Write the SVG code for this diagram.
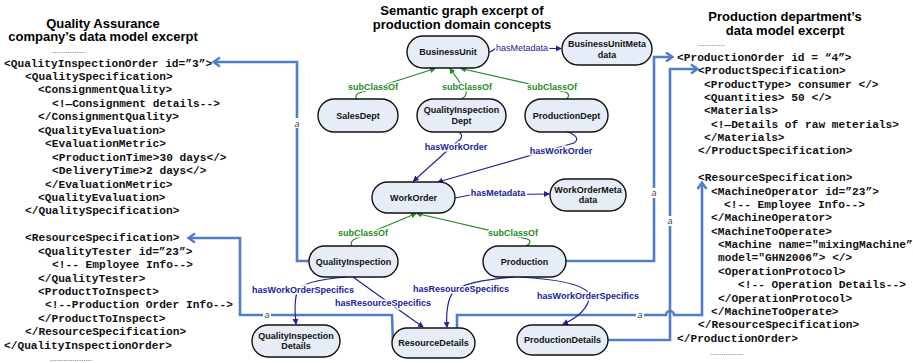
<svg xmlns="http://www.w3.org/2000/svg" width="913" height="363" viewBox="0 0 913 363">
<style>
.title{font-family:"Liberation Sans",Arial,sans-serif;font-weight:bold;font-size:13px;fill:#000;text-anchor:middle}
.code{font-family:"Liberation Mono","Courier New",monospace;font-weight:bold;font-size:11.2px;fill:#111}
.dots{font-family:"Liberation Sans",Arial,sans-serif;font-size:8px;fill:#333}
.node rect{fill:#e7edf7;stroke:#111;stroke-width:1.4}
.node text{font-family:"Liberation Sans",Arial,sans-serif;font-weight:bold;font-size:9px;fill:#111;text-anchor:middle}
.g{fill:none;stroke:#1f8c1f;stroke-width:1.2}
.b{fill:none;stroke:#22229a;stroke-width:1.2}
.lg{font-family:"Liberation Sans",Arial,sans-serif;font-weight:bold;font-size:9px;fill:#1f8c1f;text-anchor:middle;stroke:#fff;stroke-width:3;paint-order:stroke}
.lb{font-family:"Liberation Sans",Arial,sans-serif;font-weight:bold;font-size:9px;fill:#22229a;text-anchor:middle;stroke:#fff;stroke-width:3;paint-order:stroke}
.lbn{font-family:"Liberation Sans",Arial,sans-serif;font-size:9px;fill:#22229a;text-anchor:middle;stroke:#fff;stroke-width:3;paint-order:stroke}
.map{fill:none;stroke:#4f7ec8;stroke-width:2.6}
.al{font-family:"Liberation Sans",Arial,sans-serif;font-style:italic;font-size:9px;fill:#444;text-anchor:middle}
</style>
<defs>
<marker id="ag" markerWidth="6" markerHeight="6" refX="5" refY="3" orient="auto" markerUnits="userSpaceOnUse"><path d="M0,0 L6,3 L0,6 z" fill="#1f8c1f"/></marker>
<marker id="ab" markerWidth="6" markerHeight="6" refX="5" refY="3" orient="auto" markerUnits="userSpaceOnUse"><path d="M0,0 L6,3 L0,6 z" fill="#22229a"/></marker>
<marker id="am" markerWidth="12" markerHeight="12" refX="9" refY="6" orient="auto" markerUnits="userSpaceOnUse"><path d="M3,1.5 L9.5,6 L3,10.5" fill="none" stroke="#4f7ec8" stroke-width="2.4"/></marker>
</defs>

<!-- titles -->
<text class="title" x="103" y="27.5">Quality Assurance</text>
<text class="title" x="103" y="41">company’s data model excerpt</text>
<text class="title" x="462" y="14.5">Semantic graph excerpt of</text>
<text class="title" x="462" y="28.5">production domain concepts</text>
<text class="title" x="785" y="20.5">Production department’s</text>
<text class="title" x="785" y="35">data model excerpt</text>

<!-- left data model -->
<text class="dots" x="52" y="53">...............</text>
<text class="code">
<tspan x="4" y="66.5">&lt;QualityInspectionOrder id=”3”&gt;</tspan>
<tspan x="25" y="79.9">&lt;QualitySpecification&gt;</tspan>
<tspan x="38" y="93.4">&lt;ConsignmentQuality&gt;</tspan>
<tspan x="52" y="106.8">&lt;!—Consignment details--&gt;</tspan>
<tspan x="38" y="120.3">&lt;/ConsignmentQuality&gt;</tspan>
<tspan x="38" y="133.7">&lt;QualityEvaluation&gt;</tspan>
<tspan x="45" y="147.1">&lt;EvaluationMetric&gt;</tspan>
<tspan x="52" y="160.6">&lt;ProductionTime&gt;30 days&lt;/&gt;</tspan>
<tspan x="52" y="174">&lt;DeliveryTime&gt;2 days&lt;/&gt;</tspan>
<tspan x="45" y="187.5">&lt;/EvaluationMetric&gt;</tspan>
<tspan x="38" y="200.9">&lt;QualityEvaluation&gt;</tspan>
<tspan x="25" y="214.3">&lt;/QualitySpecification&gt;</tspan>
<tspan x="25" y="241.2">&lt;ResourceSpecification&gt;</tspan>
<tspan x="38" y="254.7">&lt;QualityTester id=”23”&gt;</tspan>
<tspan x="52" y="268.1">&lt;!-- Employee Info--&gt;</tspan>
<tspan x="38" y="281.5">&lt;/QualityTester&gt;</tspan>
<tspan x="38" y="295">&lt;ProductToInspect&gt;</tspan>
<tspan x="45" y="308.4">&lt;!--Production Order Info--&gt;</tspan>
<tspan x="38" y="321.9">&lt;/ProductToInspect&gt;</tspan>
<tspan x="25" y="335.3">&lt;/ResourceSpecification&gt;</tspan>
<tspan x="4" y="348.7">&lt;/QualityInspectionOrder&gt;</tspan>
</text>
<text class="dots" x="50" y="361">...................</text>

<!-- right data model -->
<text class="dots" x="698" y="46">............</text>
<text class="code">
<tspan x="677" y="60.7">&lt;ProductionOrder id = “4”&gt;</tspan>
<tspan x="698" y="74.1">&lt;ProductSpecification&gt;</tspan>
<tspan x="704" y="87.5">&lt;ProductType&gt; consumer &lt;/&gt;</tspan>
<tspan x="704" y="100.8">&lt;Quantities&gt; 50 &lt;/&gt;</tspan>
<tspan x="704" y="114.2">&lt;Materials&gt;</tspan>
<tspan x="711" y="127.6">&lt;!—Details of raw meterials&gt;</tspan>
<tspan x="704" y="141">&lt;/Materials&gt;</tspan>
<tspan x="698" y="154.4">&lt;/ProductSpecification&gt;</tspan>
<tspan x="698" y="181.1">&lt;ResourceSpecification&gt;</tspan>
<tspan x="711" y="194.5">&lt;MachineOperator id=”23”&gt;</tspan>
<tspan x="724" y="207.9">&lt;!-- Employee Info--&gt;</tspan>
<tspan x="711" y="221.3">&lt;/MachineOperator&gt;</tspan>
<tspan x="711" y="234.7">&lt;MachineToOperate&gt;</tspan>
<tspan x="718" y="248">&lt;Machine name="mixingMachine”</tspan>
<tspan x="718" y="261.4">model="GHN2006”&gt; &lt;/&gt;</tspan>
<tspan x="718" y="274.8">&lt;OperationProtocol&gt;</tspan>
<tspan x="738" y="288.2">&lt;!-- Operation Details--&gt;</tspan>
<tspan x="718" y="301.6">&lt;/OperationProtocol&gt;</tspan>
<tspan x="711" y="315">&lt;/MachineToOperate&gt;</tspan>
<tspan x="698" y="328.3">&lt;/ResourceSpecification&gt;</tspan>
<tspan x="677" y="341.7">&lt;/ProductionOrder&gt;</tspan>
</text>
<text class="dots" x="710" y="355">...............</text>

<!-- connectors -->
<g id="connectors">
  <!-- mapping lines -->
  <path class="map" d="M310,261 L297,261 L297,62 L214,62" marker-end="url(#am)"/>
  <path class="map" d="M393,343 L392,315 L240,315 L240,238 L189,238" marker-end="url(#am)"/>
  <path class="map" d="M566,261 L654,261 L654,57 L672,57" marker-end="url(#am)"/>
  <path class="map" d="M608,340 L670,340 L670,69 L697,69" marker-end="url(#am)"/>
  <path class="map" d="M457,330 L457,315 L666,315 A4,4 0 0 1 674,315 L702,315 L702,183" marker-end="url(#am)"/>
  <rect x="293" y="118" width="8" height="10" fill="#fff"/><text class="al" x="297" y="127">a</text>
  <rect x="263" y="310" width="8" height="10" fill="#fff"/><text class="al" x="267" y="318">a</text>
  <rect x="650" y="188" width="8" height="10" fill="#fff"/><text class="al" x="654" y="196">a</text>
  <rect x="666" y="216" width="8" height="10" fill="#fff"/><text class="al" x="670" y="224">a</text>
  <rect x="636" y="310" width="8" height="10" fill="#fff"/><text class="al" x="640" y="318">a</text>

  <!-- semantic graph edges -->
  <path class="b" d="M489,52 C493,52 494,48 497,48 L561,48.5" marker-end="url(#ab)"/>
  <text class="lbn" x="522" y="50.5">hasMetadata</text>

  <path class="g" d="M357,99 C355,97 356,94 359,93 L435,68.5" marker-end="url(#ag)"/>
  <path class="g" d="M461,99 C465,97 467,94 466,91 L450,68.5" marker-end="url(#ag)"/>
  <path class="g" d="M566,99 C570,97 569,93 565,92 L461,68.5" marker-end="url(#ag)"/>
  <text class="lg" x="373" y="90">subClassOf</text>
  <text class="lg" x="467" y="90">subClassOf</text>
  <text class="lg" x="552" y="90">subClassOf</text>

  <path class="b" d="M459,132 C463,135 462,139 458,141 L413.5,181" marker-end="url(#ab)"/>
  <path class="b" d="M567,132 C575,134 580,139 574,143 L438,182" marker-end="url(#ab)"/>
  <text class="lb" x="456" y="150">hasWorkOrder</text>
  <text class="lb" x="561" y="154">hasWorkOrder</text>

  <path class="b" d="M455,198 L470,195 L549,194" marker-end="url(#ab)"/>
  <text class="lb" x="498" y="196">hasMetadata</text>

  <path class="g" d="M352,246 C350,243 352,240 355,239 L416,213.5" marker-end="url(#ag)"/>
  <path class="g" d="M526,246 C531,244 531,240 527,239 L417,213.5" marker-end="url(#ag)"/>
  <text class="lg" x="363" y="236">subClassOf</text>
  <text class="lg" x="513" y="236">subClassOf</text>

  <path class="b" d="M347,277 C320,279 300,283 297,292 C294,302 295,315 296,324" marker-end="url(#ab)"/>
  <path class="b" d="M353,277 L385,300 L423,327" marker-end="url(#ab)"/>
  <path class="b" d="M515,277 C490,279 465,283 455,290 C447,297 446,315 447,327" marker-end="url(#ab)"/>
  <path class="b" d="M520,277 C555,279 580,284 588,292 C592,300 585,315 563,324" marker-end="url(#ab)"/>
  <text class="lb" x="303" y="293">hasWorkOrderSpecifics</text>
  <text class="lb" x="383" y="306">hasResourceSpecifics</text>
  <text class="lb" x="461" y="292">hasResourceSpecifics</text>
  <text class="lb" x="588" y="299">hasWorkOrderSpecifics</text>
</g>

<!-- nodes -->
<g id="BusinessUnit" class="node"><rect x="407" y="36" width="82" height="32" rx="16"/><text x="448" y="55">BusinessUnit</text></g>
<g id="BusinessUnitMetadata" class="node"><rect x="562" y="33" width="90" height="32" rx="16"/><text x="607" y="47">BusinessUnitMeta</text><text x="607" y="57.5">data</text></g>
<g id="SalesDept" class="node"><rect x="318" y="99" width="80" height="33" rx="16.5"/><text x="358" y="118.5">SalesDept</text></g>
<g id="QualityInspectionDept" class="node"><rect x="417" y="99" width="89" height="33" rx="16.5"/><text x="461.5" y="113">QualityInspection</text><text x="461.5" y="123.5">Dept</text></g>
<g id="ProductionDept" class="node"><rect x="525" y="99" width="83" height="33" rx="16.5"/><text x="566.5" y="118.5">ProductionDept</text></g>
<g id="WorkOrder" class="node"><rect x="372" y="182" width="83" height="31" rx="15.5"/><text x="413.5" y="200.5">WorkOrder</text></g>
<g id="WorkOrderMetadata" class="node"><rect x="550" y="179" width="76" height="32" rx="16"/><text x="588" y="192.5">WorkOrderMeta</text><text x="588" y="203">data</text></g>
<g id="QualityInspection" class="node"><rect x="309" y="246" width="89" height="31" rx="15.5"/><text x="353.5" y="264.5">QualityInspection</text></g>
<g id="Production" class="node"><rect x="483" y="246" width="83" height="31" rx="15.5"/><text x="524.5" y="264.5">Production</text></g>
<g id="QualityInspectionDetails" class="node"><rect x="252" y="325" width="88" height="32" rx="16"/><text x="296" y="338.5">QualityInspection</text><text x="296" y="349">Details</text></g>
<g id="ResourceDetails" class="node"><rect x="392" y="328" width="83" height="30" rx="15"/><text x="433.5" y="346">ResourceDetails</text></g>
<g id="ProductionDetails" class="node"><rect x="517" y="325" width="91" height="30" rx="15"/><text x="562.5" y="343">ProductionDetails</text></g>
</svg>
